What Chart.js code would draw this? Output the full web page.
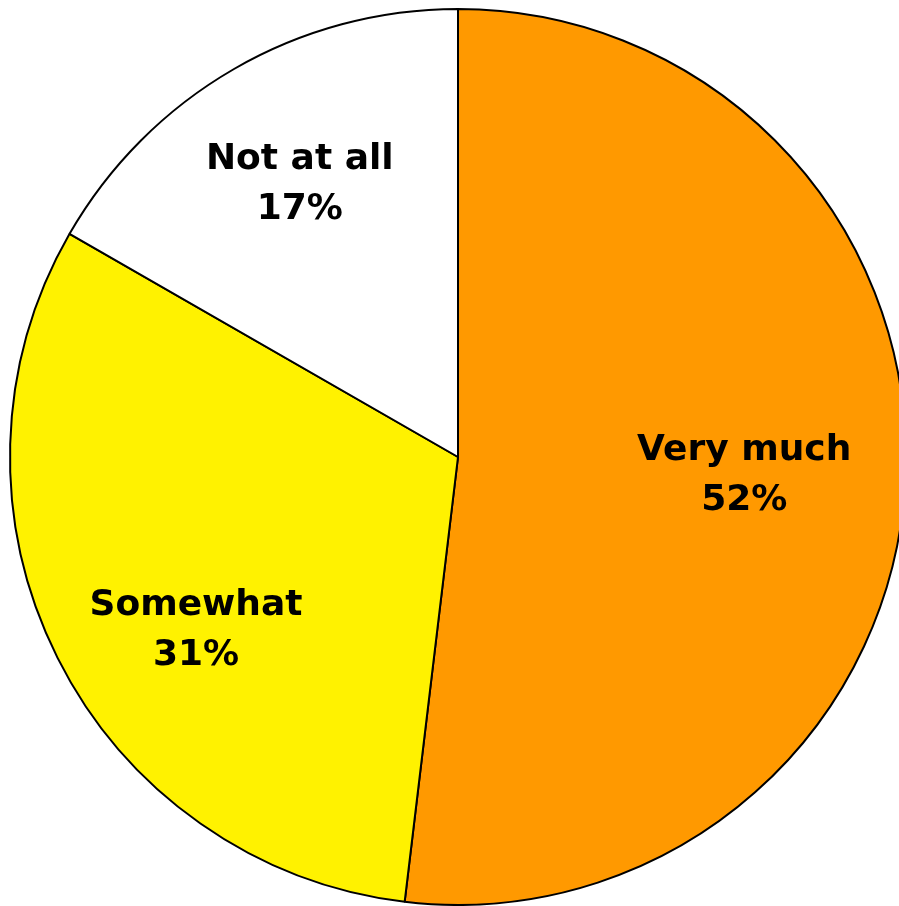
<!DOCTYPE html>
<html>
<head>
<meta charset="utf-8">
<script src="https://cdn.jsdelivr.net/npm/chart.js@4.4.0/dist/chart.umd.min.js"></script>
<style>
  html, body { margin: 0; padding: 0; background: #fff; overflow: hidden; }
  #canvas1 { display: block; }
</style>
</head>
<body>
<canvas id="canvas1" width="916" height="906"></canvas>
<script>
var labels = ["Very much", "Somewhat", "Not at all"];
var values = [51.9, 31.4, 16.7];
var colors = ["#FF9900", "#FFF200", "#FFFFFF"];

// where each label sits: fraction of radius, and a small angle nudge (degrees)
var labelRadius = [0.64, 0.70, 0.705];
var labelNudge = [0, -6.7, 0];

var pieLabels = {
  id: 'pieLabels',
  afterDatasetsDraw: function(chart) {
    var ctx = chart.ctx;
    var meta = chart.getDatasetMeta(0);
    ctx.save();
    ctx.font = 'bold 36px "DejaVu Sans"';
    ctx.fillStyle = '#000';
    ctx.textAlign = 'center';
    ctx.textBaseline = 'middle';
    meta.data.forEach(function(arc, i) {
      var p = arc.getProps(['x', 'y', 'startAngle', 'endAngle', 'outerRadius'], true);
      var mid = (p.startAngle + p.endAngle) / 2 + labelNudge[i] * Math.PI / 180;
      var r = p.outerRadius * labelRadius[i];
      var x = p.x + Math.cos(mid) * r;
      var y = p.y + Math.sin(mid) * r;
      ctx.fillText(labels[i], x, y - 23.5);
      ctx.fillText(Math.round(values[i]) + '%', x, y + 26.5);
    });
    ctx.restore();
  }
};

var ctx = document.getElementById("canvas1").getContext("2d");
window.myPie = new Chart(ctx, {
  type: 'pie',
  data: {
    labels: labels,
    datasets: [{
      data: values,
      backgroundColor: colors,
      borderColor: '#000',
      borderWidth: 2
    }]
  },
  options: {
    responsive: false,
    animation: false,
    layout: { padding: { top: 8, bottom: 0, left: 0, right: 0 } },
    plugins: {
      legend: { display: false },
      tooltip: { enabled: false }
    }
  },
  plugins: [pieLabels]
});
</script>
</body>
</html>
